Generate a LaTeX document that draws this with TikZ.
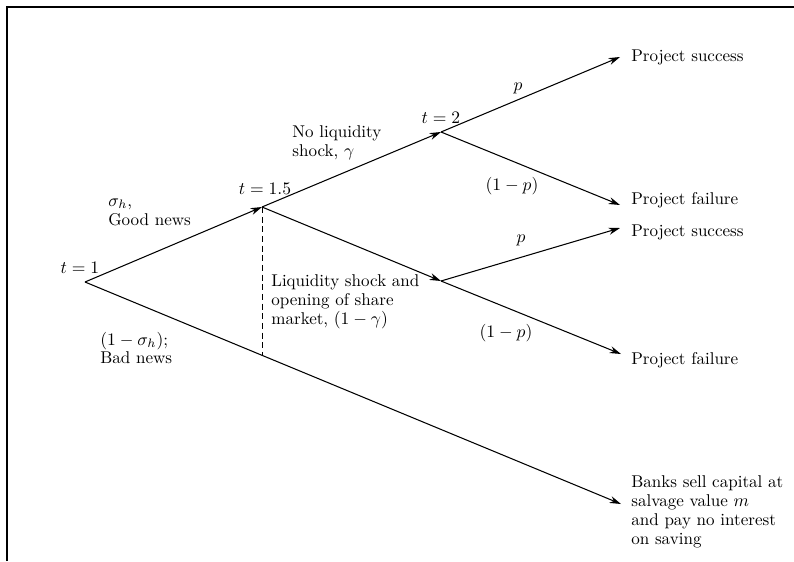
\documentclass[tikz,border=0pt]{standalone}
\usetikzlibrary{arrows.meta}
\begin{document}
\begin{tikzpicture}[x=0.02cm,y=-0.02cm,
  branch/.style={line width=0.6pt},
  arr/.style={branch,-{Stealth[length=6.5pt,width=4pt]}},
  lbl/.style={font=\fontsize{9.7}{10.8}\selectfont, inner sep=0pt},
  txt/.style={lbl, align=left, anchor=west}]
\useasboundingbox (0,0) rectangle (794,561);
\draw[line width=1.1pt] (7,561) -- (7,7) -- (794,7);
% decision points
\coordinate (t1) at (85,282);
\coordinate (t15) at (262,207);
\coordinate (t2) at (441,132);
\coordinate (m) at (441,281);
\coordinate (e1) at (620,57);
\coordinate (e2) at (620,205);
\coordinate (e3) at (620,228);
\coordinate (e4) at (621,354);
\coordinate (e5) at (621,504);
\coordinate (dend) at (262,355);
% connectors
\draw[arr] (t1) -- (t15);
\draw[arr] (t15) -- (t2);
\draw[arr] (t2) -- (e1);
\draw[arr] (t2) -- (e2);
\draw[arr] (t15) -- (m);
\draw[arr] (m) -- (e3);
\draw[arr] (m) -- (e4);
\draw[arr] (t1) -- (e5);
\draw[line width=0.45pt, dash pattern=on 3.5pt off 2pt] (t15) -- (dend);
% time labels
\node[lbl] (lt1) at (80,268) {$t=1$};
\node[lbl] (lt15) at (265,189) {$t=1.5$};
\node[lbl] (lt2) at (441,118) {$t=2$};
% branch labels
\node[txt] (good) at (108,212) {$\sigma_h$,\\Good news};
\node[txt] (bad) at (100,348) {$(1-\sigma_h)$;\\Bad news};
\node[txt] (noliq) at (292,143) {No liquidity\\shock, $\gamma$};
\node[txt] (liq) at (271,302) {Liquidity shock and\\opening of share\\market, $(1-\gamma)$};
\node[lbl] (p1) at (518,88) {$p$};
\node[lbl] (q1) at (512,186) {$(1-p)$};
\node[lbl] (p2) at (521,240) {$p$};
\node[lbl] (q2) at (506,333) {$(1-p)$};
% outcomes
\node[txt] (o1) at (631,57) {Project success};
\node[txt] (o2) at (631,200) {Project failure};
\node[txt] (o3) at (631,232) {Project success};
\node[txt] (o4) at (631,360) {Project failure};
\node[txt] (o5) at (631,512) {Banks sell capital at\\salvage value $m$\\and pay no interest\\on saving};
\end{tikzpicture}
\end{document}
